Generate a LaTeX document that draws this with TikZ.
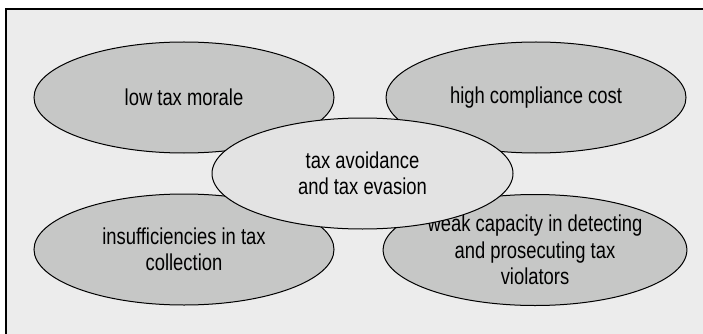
\documentclass[tikz,border=0pt]{standalone}
\usepackage{fontspec}
\setmainfont[FakeStretch=0.8]{Liberation Sans}
\usetikzlibrary{shapes.geometric}
\definecolor{panelgray}{HTML}{ECECEC}
\definecolor{outergray}{HTML}{C6C7C6}
\definecolor{innergray}{HTML}{E3E3E3}

\begin{document}
\begin{tikzpicture}[x=1pt, y=-1pt,
  cause/.style={ellipse, draw=black, line width=1pt, fill=outergray, minimum width=300pt, minimum height=111pt, inner sep=0pt, align=center, font=\fontsize{23}{26.5}\selectfont},
  core/.style={cause, fill=innergray, minimum width=301pt}]
\useasboundingbox (0,0) rectangle (703,334);
\fill[white] (0,0) rectangle (703,334);
\fill[panelgray] (6,9) rectangle (703,334);
\draw[line width=2pt] (6,334) -- (6,9) -- (703,9);
% the four causes
\node[cause] (morale) at (184,97.5) {low tax morale};
\node[cause] (cost) at (536,97.5) {high compliance cost};
\node[cause] (collection) at (184,249.5) {insufficiencies in tax\\collection};
\node[cause] (violators) at (535,250) {weak capacity in detecting\\and prosecuting tax\\violators};
% centre
\node[core] (evasion) at (362.5,173.5) {tax avoidance\\and tax evasion};
\end{tikzpicture}
\end{document}
